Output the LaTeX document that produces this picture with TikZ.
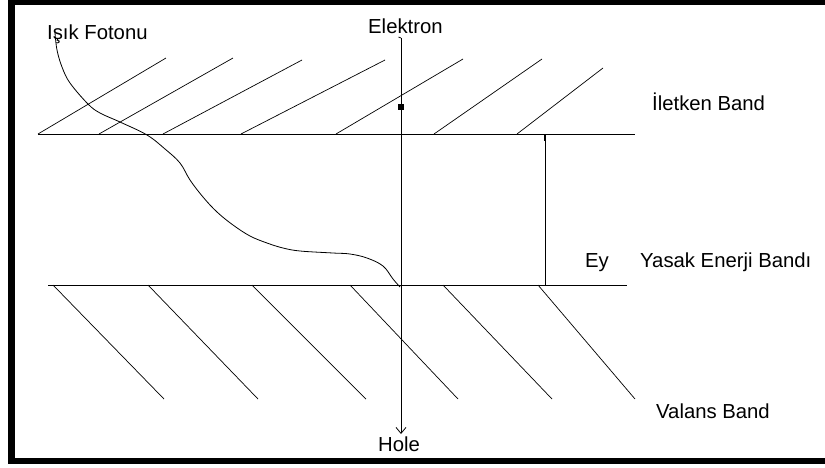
\documentclass[tikz,border=0pt]{standalone}
\usepackage{fontspec}
\setmainfont{Liberation Sans}
\usetikzlibrary{arrows.meta}
\begin{document}
\begin{tikzpicture}[x=1pt,y=-1pt,
  thin line/.style={line width=0.8pt,black},
  hatch/.style={line width=0.7pt,black},
  lbl/.style={inner sep=0pt,anchor=base west,font=\fontsize{20.3}{22}\selectfont}]
\useasboundingbox (0,0) rectangle (825,467);
\fill[white] (0,0) rectangle (825,467);
% frame (right side lies beyond the picture)
\draw[line width=6.5pt] (840,2) -- (11.5,2) -- (11.5,461) -- (840,461);
% band lines
\coordinate (ul) at (38,134);
\coordinate (ur) at (635,134);
\coordinate (ll) at (48,285);
\coordinate (lr) at (627,285);
\draw[thin line] (ul) -- (ur);
\draw[thin line] (ll) -- (lr);
% upper hatching
\foreach \a/\b/\c/\d in {38/134/166/58, 99/134/233/58, 163/134/302/60, 241/134/385/60,
  336/134/463/59, 434/134/542/59, 517/134/603/68}
  \draw[hatch] (\a,\b) -- (\c,\d);
% lower hatching
\foreach \a/\b in {53/164, 148/258, 252/366, 350/458, 443/552, 538/635}
  \draw[hatch] (\a,285) -- (\b,399);
% labels
\node[lbl] (foton) at (47,39) {Işık Fotonu};
\node[lbl] (elektron) at (368,33) {Elektron};
\node[lbl] (iletken) at (652,110) {İletken Band};
\node[lbl] (ey) at (585,267) {Ey};
\node[lbl] (yasak) at (640,267) {Yasak Enerji Bandı};
\node[lbl] (valans) at (656,418) {Valans Band};
\node[lbl] (hole) at (378,451) {Hole};
% electron / hole transition
\coordinate (etop) at (401,38);
\coordinate (ebot) at (401,434);
\draw[thin line,-{Straight Barb[length=6pt,width=10pt,line width=0.8pt]}] (etop) -- (ebot);
\draw[thin line] (etop) -- (398.5,37);
\fill (398,104) rectangle (404,110);
% band gap marker
\coordinate (gtop) at (545,134);
\coordinate (gbot) at (545,285);
\draw[thin line] (gtop) -- (gbot);
\draw[line width=2.5pt] (545,134) -- (545,141);
% photon path
\draw[line width=0.8pt] plot[smooth,tension=0.6] coordinates {
  (55,33) (57,50) (62,67) (70,83) (88,104) (100,113) (120,122) (147,135)
  (165,149) (180,163) (190,180) (203,197) (217,212) (233,225) (250,236)
  (267,243) (283,248) (300,251) (333,253) (350,254) (367,258) (383,266)
  (393,279) (400,287)};
\end{tikzpicture}
\end{document}
